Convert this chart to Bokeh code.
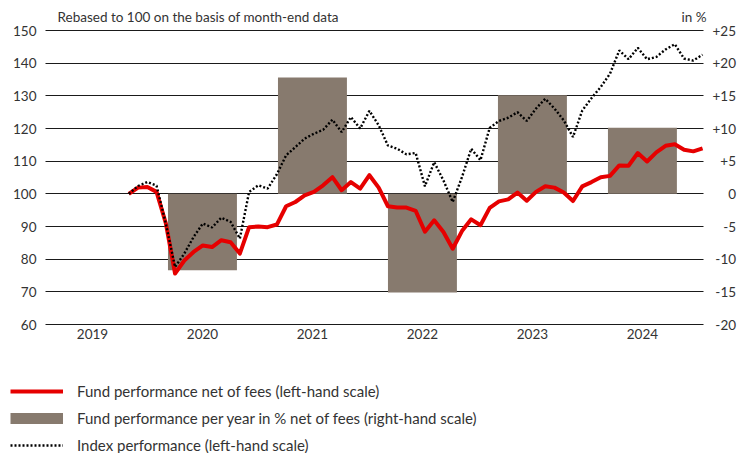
from bokeh.plotting import figure
from bokeh.models import (Range1d, LinearAxis, FixedTicker, Legend, LegendItem, Label)
from bokeh.embed import file_html
from bokeh.resources import INLINE

# ---------------- data (monthly, starting October 2019) ----------------
fund = [100.0, 101.9, 102.1, 100.6, 91.0, 75.6, 79.6, 82.2, 84.2, 83.7, 85.8, 85.2,
        81.7, 89.8, 90.0, 89.8, 90.6, 96.2, 97.5, 99.5, 100.6, 102.6, 105.1, 101.1,
        103.6, 101.6, 105.7, 101.9, 96.2, 95.8, 95.8, 94.8, 88.4, 91.9, 88.3, 83.2,
        88.6, 92.2, 90.4, 95.7, 97.7, 98.3, 100.4, 97.9, 100.6, 102.3, 101.9, 100.4,
        97.8, 102.3, 103.6, 105.1, 105.5, 108.7, 108.6, 112.5, 109.9, 112.7, 114.7,
        115.2, 113.5, 113.0, 113.9]
index_perf = [100.0, 102.4, 103.6, 102.5, 90.9, 77.6, 81.7, 86.8, 90.9, 89.7, 92.7, 91.4,
              86.3, 100.6, 102.6, 101.6, 106.0, 111.8, 114.3, 116.9, 118.4, 119.6, 122.7, 118.9,
              123.5, 120.0, 125.4, 121.0, 114.8, 113.8, 112.1, 112.5, 102.3, 109.7, 104.1, 97.5,
              105.1, 113.8, 110.3, 120.2, 122.3, 123.3, 125.0, 122.3, 126.1, 129.1, 126.1, 122.5,
              117.4, 125.5, 129.3, 132.7, 136.8, 143.9, 141.2, 144.7, 141.2, 141.9, 144.2,
              145.8, 141.4, 140.8, 142.6]
months = list(range(len(fund)))

years = [2019, 2020, 2021, 2022, 2023, 2024]
bar_years = [2020, 2021, 2022, 2023, 2024]
bar_values = [-11.7, 17.8, -15.1, 15.1, 10.1]

left_ticks = [60, 70, 80, 90, 100, 110, 120, 130, 140, 150]
right_ticks = [-20, -15, -10, -5, 0, 5, 10, 15, 20, 25]
right_labels = ["-20", "-15", "-10", "-5", "0", "+5", "+10", "+15", "+20", "+25"]

title_text = "Rebased to 100 on the basis of month-end data"
unit_text = "in %"
legend_labels = ["Fund performance net of fees (left-hand scale)",
                 "Fund performance per year in % net of fees (right-hand scale)",
                 "Index performance (left-hand scale)"]

# ---------------- layout / style ----------------
FONT = "Lato"
TXT = "#333333"
RED = "#e60000"
TAUPE = "#877a6e"
W, H = 740, 453
FL, FR, FT, FB = 45, 703, 30, 324          # chart box in pixels
x_start, x_end = -9.0, 62.1                # month index at the chart box edges
y_bot, y_top = 60, 150
p_bot, p_top = -20, 25
year_mid_2020 = 7.96
year_step = 11.885


def year_pos(y):
    return year_mid_2020 + (y - 2020) * year_step


# right-align the right-hand tick labels with figure / punctuation spaces
FS, PS = "\u2007", "\u2008"
pad = {"0": FS + FS, "+5": FS, "-5": FS + PS, "-10": PS, "-15": PS, "-20": PS}
right_shown = [pad.get(t, "") + t for t in right_labels]

kx = (x_end - x_start) / (FR - FL)
ky = (y_top - y_bot) / (FB - FT)
kp = (p_top - p_bot) / (FB - FT)
x_range = Range1d(x_start - FL * kx, x_end + (W - FR) * kx)
y_range = Range1d(y_bot - (H - FB) * ky, y_top + FT * ky)
pct_range = Range1d(p_bot - (H - FB) * kp, p_top + FT * kp)

p = figure(width=W, height=H, x_range=x_range, y_range=y_range,
           output_backend="svg", toolbar_location=None,
           min_border=0, min_border_left=0, min_border_right=0,
           min_border_top=0, min_border_bottom=0)
p.extra_y_ranges = {"pct": pct_range}
p.title.visible = False
p.outline_line_color = None
p.background_fill_color = "white"
p.border_fill_color = "white"

# grid
p.xgrid.grid_line_color = None
yg = p.ygrid[0]
yg.ticker = FixedTicker(ticks=left_ticks)
yg.grid_line_color = "#1a1a1a"
yg.grid_line_width = 1.2
try:
    yg.cross_bounds = (x_start, x_end)
except AttributeError:
    yg.grid_line_color = None
    p.segment(x0=x_start, x1=x_end, y0=left_ticks, y1=left_ticks,
              line_color="#1a1a1a", line_width=1.2, level="underlay")

# left axis
yax = p.yaxis[0]
yax.ticker = FixedTicker(ticks=left_ticks)
yax.fixed_location = x_start

# right axis
rax = LinearAxis(y_range_name="pct", ticker=FixedTicker(ticks=right_ticks),
                 major_label_overrides=dict(zip(right_ticks, right_shown)),
                 fixed_location=x_end)
p.add_layout(rax, "right")

# bottom axis (years)
xax = p.xaxis[0]
xpos = [year_pos(y) for y in years]
xax.ticker = FixedTicker(ticks=xpos)
xax.major_label_overrides = {xp: str(y) for xp, y in zip(xpos, years)}
xax.fixed_location = y_bot

for ax in (yax, rax, xax):
    ax.axis_line_color = None
    ax.major_tick_line_color = None
    ax.minor_tick_line_color = None
    ax.major_tick_out = 0
    ax.minor_tick_out = 0
    ax.major_label_text_font = FONT
    ax.major_label_text_font_size = "13.5px"
    ax.major_label_text_color = TXT
yax.major_label_standoff = 9
rax.major_label_standoff = 9
xax.major_label_standoff = 4

# bars (right-hand scale)
p.vbar(x=[year_pos(y) for y in bar_years], width=7.45, top=bar_values, bottom=0,
       y_range_name="pct", fill_color=TAUPE, line_color=None)

# lines
r_fund = p.line(months, fund, line_color=RED, line_width=4, line_join="round")
r_index = p.line(months, index_perf, line_color="black", line_width=2.4, line_dash="2 2")
# legend key for the bars: a thick line renderer that draws nothing in the chart
nan = float("nan")
r_bar_key = p.line(x=[x_start, x_start], y=[nan, nan], line_color=TAUPE, line_width=11)

legend = Legend(items=[LegendItem(label=legend_labels[0], renderers=[r_fund]),
                       LegendItem(label=legend_labels[1], renderers=[r_bar_key]),
                       LegendItem(label=legend_labels[2], renderers=[r_index])],
                location=(10, -2), orientation="vertical", padding=0, margin=0,
                spacing=7, glyph_width=53, glyph_height=20, label_height=20,
                label_standoff=14, label_text_font=FONT, label_text_font_size="15px",
                label_text_color=TXT, border_line_color=None, background_fill_alpha=0)
p.add_layout(legend)

p.add_layout(Label(x=x_start, y=y_top, x_offset=12, y_offset=14, text=title_text,
                   text_font=FONT, text_font_size="13.5px", text_color=TXT,
                   text_baseline="middle", text_align="left"))
p.add_layout(Label(x=x_end, y=y_top, x_offset=3, y_offset=14, text=unit_text,
                   text_font=FONT, text_font_size="13.5px", text_color=TXT,
                   text_baseline="middle", text_align="right"))

open("out.html", "w").write(file_html(p, INLINE))
